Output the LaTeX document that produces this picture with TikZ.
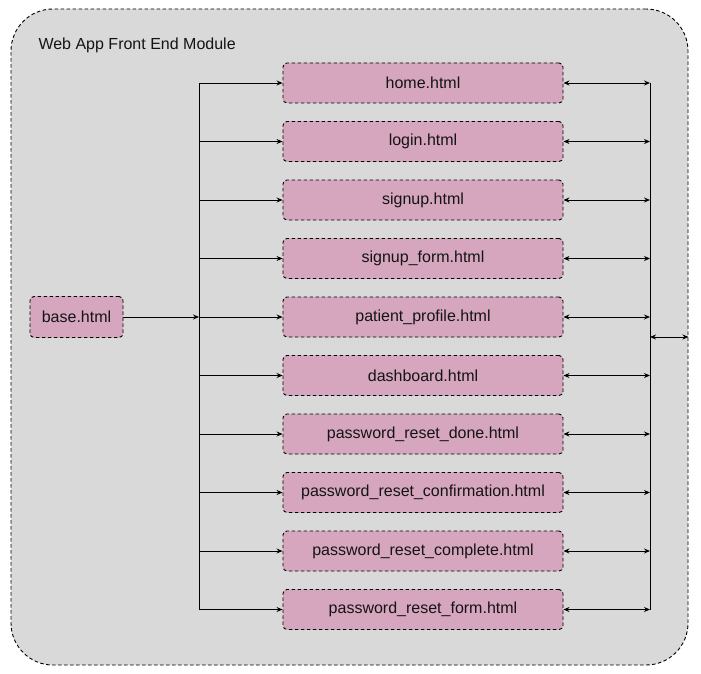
\documentclass[tikz,border=0pt]{standalone}
\usepackage{fontspec}
\setmainfont{Liberation Sans}
\usetikzlibrary{positioning, arrows.meta}
\definecolor{waGray}{RGB}{217, 217, 217}
\definecolor{waPink}{RGB}{213, 166, 189}
\definecolor{waInk}{RGB}{20, 20, 20}
\tikzset{
    txt/.style={
        font=\fontsize{16}{19}\selectfont,
        text=waInk,
        align=center
    },
    module/.style={
        rectangle,
        rounded corners=42pt,
        draw=black,
        fill=waGray,
        line width=0.9pt,
        dash pattern=on 3.5pt off 2.5pt
    },
    page/.style={
        txt,
        rectangle,
        rounded corners=4pt,
        draw=black,
        fill=waPink,
        line width=0.9pt,
        dash pattern=on 3.5pt off 2.5pt,
        minimum width=280pt,
        minimum height=40pt,
        inner sep=0pt
    },
    link/.style={
        -{Stealth[length=6pt, width=5pt]},
        line width=0.9pt
    },
    duplex/.style={
        {Stealth[length=6pt, width=5pt]}-{Stealth[length=6pt, width=5pt]},
        line width=0.9pt
    },
    wire/.style={
        line width=0.9pt
    }
}
\begin{document}
\begin{tikzpicture}[x=1pt, y=-1pt]
  \useasboundingbox (0,0) rectangle (701,674);

  % Module container
  \node[module, minimum width=677pt, minimum height=656pt] (module) at (349.5,337) {};
  \node[txt, anchor=west] (title) at (35,45) {Web App Front End Module};

  % Templates
  \node[page, minimum width=93pt, minimum height=41pt] (base) at (76.5,317) {base.html};
  \node[page] (home) at (423,83) {home.html};
  \node[page, below=17.6pt of home] (login) {login.html};
  \node[page, below=17.6pt of login] (signup) {signup.html};
  \node[page, below=17.6pt of signup] (signupform) {signup\_form.html};
  \node[page, below=17.6pt of signupform] (profile) {patient\_profile.html};
  \node[page, below=17.6pt of profile] (dashboard) {dashboard.html};
  \node[page, below=17.6pt of dashboard] (prdone) {password\_reset\_done.html};
  \node[page, below=17.6pt of prdone] (prconfirm) {password\_reset\_confirmation.html};
  \node[page, below=17.6pt of prconfirm] (prcomplete) {password\_reset\_complete.html};
  \node[page, below=17.6pt of prcomplete] (prform) {password\_reset\_form.html};

  % Inheritance trunk
  \coordinate (trunk) at (199,317);
  \draw[link] (base.east) -- (trunk);
  \draw[wire] (trunk |- home.west) -- (trunk |- prform.west);
  \foreach \p in {home, login, signup, signupform, profile, dashboard, prdone, prconfirm, prcomplete, prform}
    \draw[link] (trunk |- \p.west) -- (\p.west);

  % Outgoing bus
  \coordinate (bus) at (650,337);
  \draw[wire] (bus |- home.east) -- (bus |- prform.east);
  \foreach \p in {home, login, signup, signupform, profile, dashboard, prdone, prconfirm, prcomplete, prform}
    \draw[duplex] (\p.east) -- (bus |- \p.east);
  \draw[duplex] (bus) -- (module.east |- bus);
\end{tikzpicture}
\end{document}
